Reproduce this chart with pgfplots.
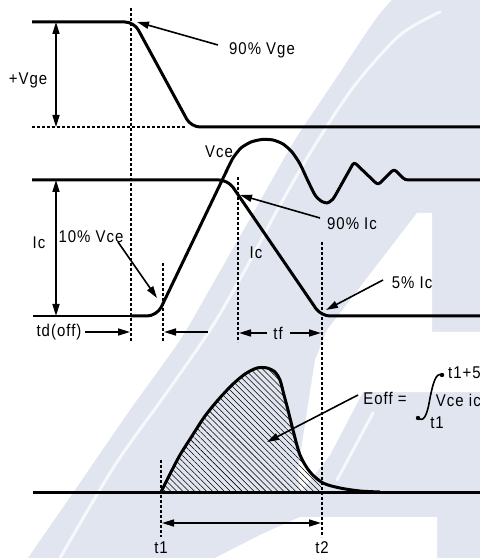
\documentclass[border=0pt]{standalone}
\usepackage{fontspec}
\setmainfont{Liberation Sans}[LetterSpace=6, FakeStretch=0.88]
\usepackage{pgfplots}
\pgfplotsset{compat=1.18}
\usetikzlibrary{arrows.meta,patterns.meta}
\definecolor{wm}{RGB}{225,229,240}

\tikzset{
  wave/.style={line width=3bp, line join=round, line cap=butt},
  guide/.style={line width=1.3bp, dash pattern=on 3bp off 2bp},
  ann/.style={line width=1.6bp, -{Triangle[length=12bp,width=7bp]}},
  dbl/.style={line width=1.6bp, {Triangle[length=12bp,width=7bp]}-{Triangle[length=12bp,width=7bp]}},
  lab/.style={font=\fontsize{17bp}{20bp}\selectfont, inner sep=0pt},
}

\begin{document}
\begin{tikzpicture}[x=1bp,y=1bp]
\path[use as bounding box] (0,0) rectangle (480,558);
\clip (0,0) rectangle (480,558);
\begin{axis}[at={(0,0)}, anchor=south west, scale only axis,
  width=480bp, height=558bp,
  xmin=0, xmax=480, ymin=0, ymax=558, y dir=reverse,
  axis lines=none, clip=false]

% background logo
\fill[wm] plot[smooth] coordinates {(28,558) (75,490) (130,410) (180,340)
  (215,280) (255,210) (295,140) (335,80) (375,20) (392,0)}
  -- (480,0) -- (480,558) -- cycle;
\fill[white] (417,213) -- (432,213) -- (432,332) -- (480,332) -- (480,392)
  -- (363,392) -- (330,455) -- (300,493) -- (298,470) -- (310,392)
  -- (315,360) -- (327,330) -- cycle;
\fill[white] (300,517) -- (437,517) -- (437,558) -- (215,558) -- (260,535) -- cycle;
\draw[white, line width=3bp, opacity=0.75, line cap=round]
  plot[smooth] coordinates {(440,12) (400,35) (355,85) (315,145) (280,205)
  (245,270) (210,330) (165,395) (115,465) (60,558)};
\draw[white, line width=3bp, opacity=0.75, line cap=round] (373,413) -- (337,480);

% hatched switching-loss area between t1 and t2
\addplot[draw=none, pattern={Lines[angle=135, distance=4.2bp, line width=0.55bp]}]
  coordinates {(161,492) (170,474) (180,455) (192,436) (205,416) (218,400)
  (232,385) (245,374) (257,368) (267,368) (275,372) (280,380) (284,395)
  (288,410) (293,430) (300,455) (310,472) (322,481) (322,492)} -- cycle;

% time markers
\addplot[guide] coordinates {(131,8) (131,342)};
\addplot[guide] coordinates {(32,127) (185,127)};
\addplot[guide] coordinates {(163,263) (163,342)};
\addplot[guide] coordinates {(238,177) (238,342)};
\addplot[guide] coordinates {(322,242) (322,537)};
\addplot[guide] coordinates {(161,460) (161,537)};

% gate-emitter voltage
\addplot[wave, rounded corners=9bp] coordinates {(32,22) (134,22) (191,127) (480,127)};
% collector current
\addplot[wave, rounded corners=9bp] coordinates {(32,180) (228,180) (321,316) (480,316)};
% collector-emitter voltage: rise, overshoot, ringing
\addplot[line width=1.5bp] coordinates {(33,316) (131,316)};
\addplot[wave, rounded corners=10bp] coordinates {(131,316) (157,316) (227,170)};
\addplot[wave, smooth, tension=0.4] coordinates {(226,172) (233,158) (241,148)
  (251,142) (262,139.5) (273,140) (283,144) (292,152) (300,164) (308,181)
  (315,195) (321,201) (327,203) (333,199) (340,187)};
\addplot[wave, rounded corners=3bp] coordinates {(340,187) (354,162) (378,185)
  (394,169) (405,180) (480,180)};
% turn-off power
\addplot[wave] coordinates {(33,492) (480,492)};
\addplot[wave, smooth, tension=0.5] coordinates {(161,492) (170,474) (180,455)
  (192,436) (205,416) (218,400) (232,385) (245,374) (257,368) (267,368)
  (275,372) (280,380) (284,395) (288,410) (293,430) (300,455) (310,472)
  (323,483) (340,488) (360,491) (380,492)};

% dimension arrows
\draw[dbl] (56,22) -- (56,127);
\draw[dbl] (56,180) -- (56,316);
\draw[dbl] (162,523) -- (321,523);
\draw[ann] (218,45) -- (137,22);
\draw[ann] (118,242) -- (157,298);
\draw[ann] (320,218) -- (240,195);
\draw[ann] (383,280) -- (326,310);
\draw[ann] (85,332) -- (130,332);
\draw[ann] (208,332) -- (164,332);
\draw[ann] (267,333) -- (239,333);
\draw[ann] (290,333) -- (321,333);
\draw[ann] (358,395) -- (267,442);

% integral sign
\draw[line width=1.6bp] (418,418) .. controls (425,424) and (428,410) .. (430,398)
  .. controls (433,383) and (436,372) .. (442,375);
\fill (418,418) circle[radius=2.2bp];
\fill (442,375) circle[radius=2.2bp];

% labels
\node[lab] at (28,80) {+Vge};
\node[lab] at (262,50) {90\% Vge};
\node[lab] at (219,152) {Vce};
\node[lab] at (39,243) {Ic};
\node[lab] at (91,237) {10\% Vce};
\node[lab] at (352,224) {90\% Ic};
\node[lab] at (256,253) {Ic};
\node[lab] at (412,283) {5\% Ic};
\node[lab] at (59,332) {td(off)};
\node[lab] at (278,333) {tf};
\node[lab] at (385,398) {Eoff =};
\node[lab, anchor=east] at (481,373) {t1+5};
\node[lab, anchor=east] at (481,400) {Vce ic};
\node[lab] at (437,423) {t1};
\node[lab] at (161,548) {t1};
\node[lab] at (322,548) {t2};
\end{axis}
\end{tikzpicture}
\end{document}
